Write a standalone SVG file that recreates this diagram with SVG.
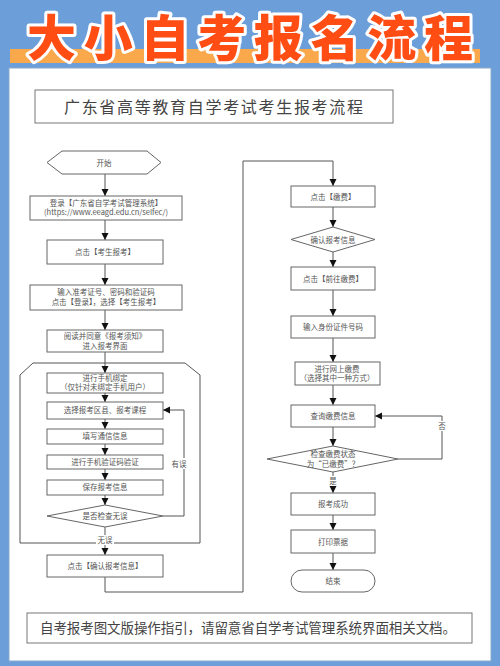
<svg xmlns="http://www.w3.org/2000/svg" width="500" height="666" viewBox="0 0 500 666">
<defs>
<marker id="ah" markerWidth="8" markerHeight="8" refX="7" refY="4" orient="auto" markerUnits="userSpaceOnUse">
<path d="M0,0.5 L7,4 L0,7.5 Z" fill="#111"/>
</marker>
<style>
.n{fill:#fff;stroke:#666;stroke-width:1}
.t{font-family:"Noto Sans CJK SC","Liberation Sans",sans-serif;font-size:7.5px;fill:#555;text-anchor:middle}
.c{fill:none;stroke:#555;stroke-width:1}
.a{fill:none;stroke:#555;stroke-width:1;marker-end:url(#ah)}
.lb{font-family:"Noto Sans CJK SC","Liberation Sans",sans-serif;font-size:7.5px;fill:#555;text-anchor:middle}
</style>
</defs>
<rect x="0" y="0" width="500" height="666" fill="#6c9fda"/>
<rect x="9" y="68" width="482" height="593" fill="#fff" stroke="#8aa9cc" stroke-width="1"/>
<rect x="10" y="49" width="470" height="14" fill="#f9a84c"/>
<text x="27" y="56" textLength="446" lengthAdjust="spacing" font-family="'Noto Sans CJK SC',sans-serif" font-size="49" font-weight="900" fill="#ff4d14" stroke="#fff" stroke-width="6" stroke-linejoin="round" paint-order="stroke">大小自考报名流程</text>

<g id="subtitle">
<rect x="35" y="90" width="358" height="33" fill="#fff" stroke="#777" stroke-width="1"/>
<text x="64" y="112.5" textLength="299" lengthAdjust="spacing" font-family="'Noto Sans CJK SC',sans-serif" font-size="16" fill="#444">广东省高等教育自学考试考生报考流程</text>
</g>

<g id="loopframe">
<path class="c" d="M33,363 L185,363 L200,375 L200,543 L20,543 L20,375 Z"/>
</g>

<g id="connectors">
<line class="a" x1="105" y1="174" x2="105" y2="196"/>
<line class="a" x1="105" y1="220" x2="105" y2="240"/>
<line class="a" x1="105" y1="264" x2="105" y2="285"/>
<line class="a" x1="105" y1="310" x2="105" y2="330"/>
<line class="a" x1="105" y1="352" x2="105" y2="373"/>
<line class="a" x1="105" y1="393" x2="105" y2="402"/>
<line class="a" x1="105" y1="419" x2="105" y2="429"/>
<line class="a" x1="105" y1="444" x2="105" y2="455"/>
<line class="a" x1="105" y1="469" x2="105" y2="480"/>
<line class="a" x1="105" y1="495" x2="105" y2="505"/>
<polyline class="a" points="163,516 184,516 184,410 163,410"/>
<line class="a" x1="105" y1="527" x2="105" y2="555"/>
<polyline class="a" points="105,577 105,592 243,592 243,161 333,161 333,186"/>
<line class="a" x1="333" y1="207" x2="333" y2="227"/>
<line class="a" x1="333" y1="252" x2="333" y2="267"/>
<line class="a" x1="333" y1="290" x2="333" y2="316"/>
<line class="a" x1="333" y1="338" x2="333" y2="362"/>
<line class="a" x1="333" y1="385" x2="333" y2="405"/>
<line class="a" x1="333" y1="427" x2="333" y2="446"/>
<polyline class="a" points="398,459 442,459 442,416 375,416"/>
<line class="a" x1="333" y1="472" x2="333" y2="493"/>
<line class="a" x1="333" y1="515" x2="333" y2="530"/>
<line class="a" x1="333" y1="553" x2="333" y2="570"/>
<rect x="171" y="458" width="16" height="11" fill="#fff"/>
<text class="lb" x="179" y="466.5">有误</text>
<rect x="96" y="535" width="18" height="10" fill="#fff"/>
<text class="lb" x="105" y="542.5">无误</text>
<rect x="437" y="421" width="10" height="10" fill="#fff"/>
<text class="lb" x="442" y="429">否</text>
<rect x="328" y="476" width="10" height="10" fill="#fff"/>
<text class="lb" x="333" y="484">是</text>
</g>

<g id="start">
<path class="n" d="M47,162.5 L62,151 L147,151 L161,162.5 L147,174 L62,174 Z"/>
<text class="t" x="104" y="165.5">开始</text>
</g>
<g id="login">
<rect class="n" x="30" y="196" width="152" height="24"/>
<text class="t" x="106" y="205.5" font-size="7">登录【广东省自学考试管理系统】</text>
<text class="t" x="106" y="215" font-size="6.5">(https://www.eeagd.edu.cn/selfec/)</text>
</g>
<g id="clickapply">
<rect class="n" x="47" y="240" width="116" height="24"/>
<text class="t" x="105" y="254.5">点击【考生报考】</text>
</g>
<g id="input">
<rect class="n" x="30" y="285" width="152" height="25"/>
<text class="t" x="106" y="295">输入准考证号、密码和验证码</text>
<text class="t" x="106" y="305">点击【登录】，选择【考生报考】</text>
</g>
<g id="read">
<rect class="n" x="47" y="330" width="116" height="22"/>
<text class="t" x="105" y="339">阅读并同意《报考须知》</text>
<text class="t" x="105" y="348.5">进入报考界面</text>
</g>
<g id="bindphone">
<rect class="n" x="47" y="373" width="116" height="20"/>
<text class="t" x="105" y="380.5" font-size="6">进行手机绑定</text>
<text class="t" x="105" y="390" font-size="6">（仅针对未绑定手机用户）</text>
</g>
<g id="choose">
<rect class="n" x="47" y="402" width="116" height="17"/>
<text class="t" x="105" y="413">选择报考区县、报考课程</text>
</g>
<g id="contact">
<rect class="n" x="47" y="429" width="116" height="15"/>
<text class="t" x="105" y="439">填写通信信息</text>
</g>
<g id="verify">
<rect class="n" x="47" y="455" width="116" height="14"/>
<text class="t" x="105" y="464.5">进行手机验证码验证</text>
</g>
<g id="save">
<rect class="n" x="47" y="480" width="116" height="15"/>
<text class="t" x="105" y="490">保存报考信息</text>
</g>
<g id="check">
<path class="n" d="M47,516 L105,505 L163,516 L105,527 Z"/>
<text class="t" x="105" y="519">是否检查无误</text>
</g>
<g id="confirm">
<rect class="n" x="47" y="555" width="116" height="22"/>
<text class="t" x="105" y="569">点击【确认报考信息】</text>
</g>

<g id="pay">
<rect class="n" x="291" y="186" width="84" height="21"/>
<text class="t" x="333" y="199.5">点击【缴费】</text>
</g>
<g id="confirminfo">
<path class="n" d="M291,239.5 L333,227 L375,239.5 L333,252 Z"/>
<text class="t" x="333" y="242.5">确认报考信息</text>
</g>
<g id="gopay">
<rect class="n" x="291" y="267" width="84" height="23"/>
<text class="t" x="333" y="281.5">点击【前往缴费】</text>
</g>
<g id="idnum">
<rect class="n" x="291" y="316" width="84" height="22"/>
<text class="t" x="333" y="330">输入身份证件号码</text>
</g>
<g id="onlinepay">
<rect class="n" x="295" y="362" width="85" height="23"/>
<text class="t" x="337" y="371.5">进行网上缴费</text>
<text class="t" x="337" y="381">（选择其中一种方式）</text>
</g>
<g id="query">
<rect class="n" x="291" y="405" width="84" height="22"/>
<text class="t" x="333" y="419">查询缴费信息</text>
</g>
<g id="checkpaid">
<path class="n" d="M267,459 L333,446 L398,459 L333,472 Z"/>
<text class="t" x="333" y="457">检查缴费状态</text>
<text class="t" x="333" y="466.5">为“已缴费”？</text>
</g>
<g id="success">
<rect class="n" x="291" y="493" width="84" height="22"/>
<text class="t" x="333" y="507">报考成功</text>
</g>
<g id="print">
<rect class="n" x="291" y="530" width="84" height="23"/>
<text class="t" x="333" y="544.5">打印票据</text>
</g>
<g id="end">
<rect class="n" x="291" y="570" width="84" height="22" rx="11" ry="11"/>
<text class="t" x="333" y="584">结束</text>
</g>

<g id="footer">
<rect x="27" y="613" width="445" height="30" fill="#fff" stroke="#777" stroke-width="1"/>
<text x="40" y="632.5" textLength="416" lengthAdjust="spacing" font-family="'Noto Sans CJK SC',sans-serif" font-size="13.5" fill="#444">自考报考图文版操作指引，请留意省自学考试管理系统界面相关文档。</text>
</g>
</svg>
